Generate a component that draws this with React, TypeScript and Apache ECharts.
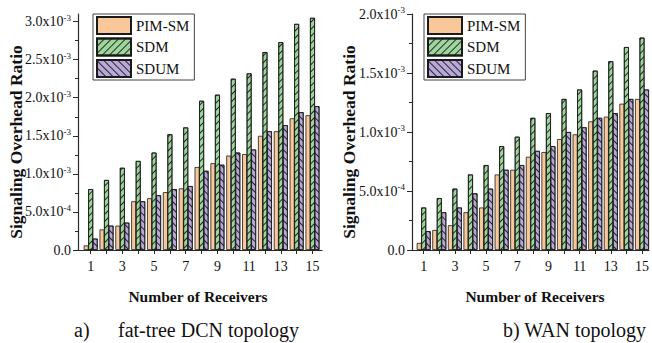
import React, { useEffect, useRef } from "react";
import * as echarts from "echarts";

const receivers = [1, 2, 3, 4, 5, 6, 7, 8, 9, 10, 11, 12, 13, 14, 15];
const xLabelValues = [1, 3, 5, 7, 9, 11, 13, 15];
const seriesNames = ["PIM-SM", "SDM", "SDUM"];

// fat-tree DCN topology (x1e-3)
const dcnPimSm = [0.06, 0.27, 0.32, 0.64, 0.68, 0.76, 0.81, 1.09, 1.14, 1.24, 1.26, 1.5, 1.56, 1.73, 1.77];
const dcnSdm = [0.8, 0.92, 1.08, 1.17, 1.28, 1.52, 1.61, 1.96, 2.04, 2.25, 2.32, 2.6, 2.73, 2.97, 3.05];
const dcnSdum = [0.15, 0.32, 0.36, 0.64, 0.72, 0.8, 0.84, 1.04, 1.12, 1.28, 1.32, 1.56, 1.64, 1.81, 1.89];

// WAN topology (x1e-3)
const wanPimSm = [0.06, 0.17, 0.21, 0.32, 0.36, 0.64, 0.68, 0.79, 0.83, 0.94, 0.98, 1.09, 1.13, 1.24, 1.28];
const wanSdm = [0.36, 0.44, 0.52, 0.64, 0.72, 0.88, 0.96, 1.12, 1.16, 1.28, 1.36, 1.52, 1.6, 1.72, 1.8];
const wanSdum = [0.16, 0.32, 0.36, 0.48, 0.52, 0.68, 0.72, 0.84, 0.88, 1.0, 1.04, 1.12, 1.16, 1.28, 1.36];

const dcnYTicks = [0, 0.5, 1.0, 1.5, 2.0, 2.5, 3.0];
const dcnYMinor = [0.25, 0.75, 1.25, 1.75, 2.25, 2.75];
const wanYTicks = [0, 0.5, 1.0, 1.5, 2.0];
const wanYMinor = [0.25, 0.75, 1.25, 1.75];

const SERIF = "'Liberation Serif', 'Times New Roman', serif";
const COLORS = ["#F9C89A", "#9DD69A", "#B8A8D8"];

function fmtY(v: number): string {
  const val = v * 1e-3;
  if (Math.abs(val) < 1e-12) return "{m|0.0}";
  const exp = Math.floor(Math.log10(val) + 1e-9);
  const mant = val / Math.pow(10, exp);
  return "{m|" + mant.toFixed(1) + "x10}{e|" + exp + "}";
}

const hatchUp = {
  symbol: "rect",
  symbolSize: 1,
  color: "rgba(20,20,20,0.9)",
  dashArrayX: [1, 0],
  dashArrayY: [1, 4],
  rotation: -Math.PI / 4,
};
const hatchDown = { ...hatchUp, rotation: Math.PI / 4 };

function makeSeries(idx: number, xAxisIndex: number, yAxisIndex: number, vals: number[]) {
  const decal = idx === 1 ? hatchUp : idx === 2 ? hatchDown : undefined;
  return {
    type: "bar",
    name: seriesNames[idx],
    xAxisIndex,
    yAxisIndex,
    barWidth: 5,
    barGap: "-10%",
    data: receivers.map((r, i) => [r, vals[i]]),
    itemStyle: {
      color: COLORS[idx],
      borderColor: "#1a1a1a",
      borderWidth: 0.8,
      decal,
    },
  };
}

function xAxis(gridIndex: number, min: number, max: number) {
  return {
    type: "value",
    gridIndex,
    min,
    max,
    axisLine: { show: true, onZero: false, lineStyle: { color: "#2a2a2a", width: 1.2 } },
    axisTick: { show: true, length: 4, customValues: receivers, lineStyle: { color: "#2a2a2a" } },
    axisLabel: {
      customValues: xLabelValues,
      formatter: (v: number) => String(v),
      fontFamily: SERIF,
      fontSize: 14,
      color: "#111",
      margin: 9,
    },
    splitLine: { show: false },
  };
}

function yAxes(gridIndex: number, max: number, ticks: number[], minor: number[]) {
  return [
    {
      type: "value",
      gridIndex,
      position: "left",
      min: 0,
      max,
      axisLine: { show: true, lineStyle: { color: "#2a2a2a", width: 1.2 } },
      axisTick: { show: true, length: 5, customValues: ticks, lineStyle: { color: "#2a2a2a" } },
      axisLabel: {
        customValues: ticks,
        formatter: fmtY,
        margin: 7,
        rich: {
          m: { fontFamily: SERIF, fontSize: 14, color: "#111" },
          e: { fontFamily: SERIF, fontSize: 9, color: "#111", padding: [0, 0, 8, 0] },
        },
      },
      splitLine: { show: false },
    },
    {
      type: "value",
      gridIndex,
      position: "left",
      offset: 0,
      min: 0,
      max,
      axisLine: { show: false },
      axisTick: { show: true, length: 3, customValues: minor, lineStyle: { color: "#2a2a2a" } },
      axisLabel: { show: false },
      splitLine: { show: false },
    },
  ];
}

function legend(left: number) {
  return {
    orient: "vertical",
    left,
    top: 14,
    itemWidth: 34,
    itemHeight: 17,
    itemGap: 2.5,
    itemTextGap: 6,
    padding: [2, 5, 2, 3],
    borderColor: "#444",
    borderWidth: 1,
    icon: "rect",
    data: seriesNames,
    textStyle: { fontFamily: SERIF, fontSize: 15, color: "#111" },
  };
}

export default function App() {
  const ref = useRef<HTMLDivElement>(null);
  useEffect(() => {
    if (!ref.current) return;
    const chart = echarts.init(ref.current, undefined, { renderer: "svg" });
    const option = {
      animation: false,
      backgroundColor: "#fff",
      grid: [
        { left: 78, top: 14, width: 244, height: 236 },
        { left: 412, top: 14, width: 240, height: 236 },
      ],
      xAxis: [xAxis(0, 0.2, 15.6), xAxis(1, 0.25, 15.45)],
      yAxis: [...yAxes(0, 3.1, dcnYTicks, dcnYMinor), ...yAxes(1, 2.0, wanYTicks, wanYMinor)],
      legend: [legend(93), legend(424)],
      series: [
        makeSeries(0, 0, 0, dcnPimSm),
        makeSeries(1, 0, 0, dcnSdm),
        makeSeries(2, 0, 0, dcnSdum),
        makeSeries(0, 1, 2, wanPimSm),
        makeSeries(1, 1, 2, wanSdm),
        makeSeries(2, 1, 2, wanSdum),
      ],
      graphic: [
        {
          type: "text",
          x: 16,
          y: 142,
          rotation: Math.PI / 2,
          style: {
            text: "Signaling Overhead Ratio",
            font: "bold 17.5px " + SERIF,
            fill: "#111",
            textAlign: "center",
            textVerticalAlign: "middle",
          },
        },
        {
          type: "text",
          x: 349,
          y: 142,
          rotation: Math.PI / 2,
          style: {
            text: "Signaling Overhead Ratio",
            font: "bold 17.5px " + SERIF,
            fill: "#111",
            textAlign: "center",
            textVerticalAlign: "middle",
          },
        },
        {
          type: "text",
          x: 198,
          y: 296,
          style: {
            text: "Number of Receivers",
            font: "bold 15.5px " + SERIF,
            fill: "#111",
            textAlign: "center",
            textVerticalAlign: "middle",
          },
        },
        {
          type: "text",
          x: 535,
          y: 296,
          style: {
            text: "Number of Receivers",
            font: "bold 15.5px " + SERIF,
            fill: "#111",
            textAlign: "center",
            textVerticalAlign: "middle",
          },
        },
        {
          type: "text",
          x: 74,
          y: 330,
          style: { text: "a)", font: "20px " + SERIF, fill: "#111", textVerticalAlign: "middle" },
        },
        {
          type: "text",
          x: 118,
          y: 330,
          style: { text: "fat-tree DCN topology", font: "20px " + SERIF, fill: "#111", textVerticalAlign: "middle" },
        },
        {
          type: "text",
          x: 646,
          y: 330,
          style: {
            text: "b) WAN topology",
            font: "20px " + SERIF,
            fill: "#111",
            textAlign: "right",
            textVerticalAlign: "middle",
          },
        },
      ],
    };
    chart.setOption(option as any);
    return () => chart.dispose();
  }, []);
  return <div ref={ref} style={{ position: "fixed", left: 0, top: 0, width: 652, height: 343 }} />;
}
